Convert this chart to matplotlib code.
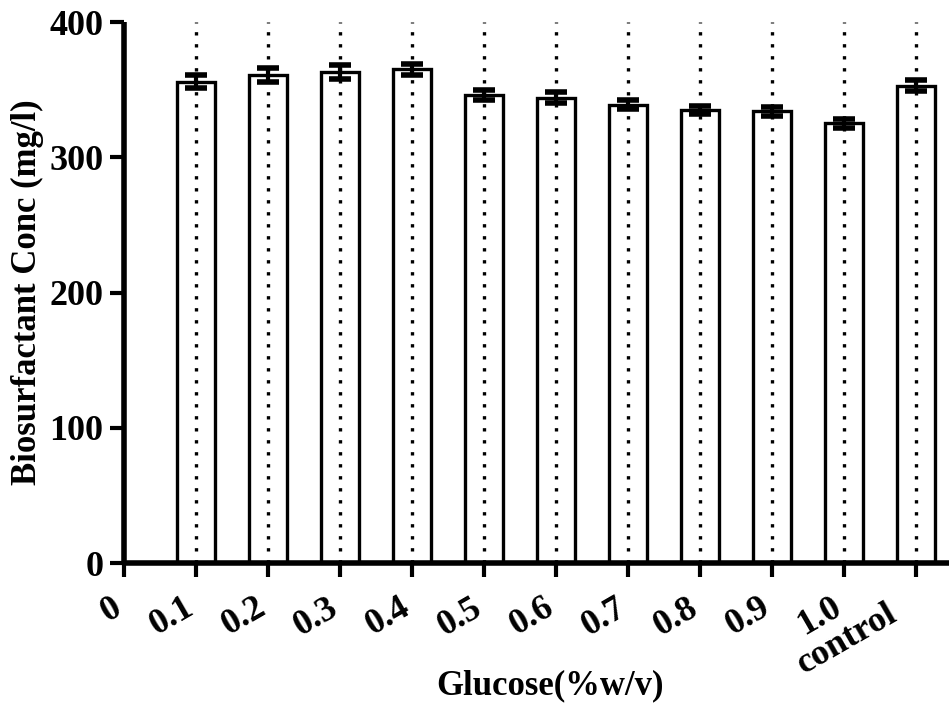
import numpy as np
import matplotlib
matplotlib.use("Agg")
import matplotlib.pyplot as plt
from matplotlib.ticker import MultipleLocator
from matplotlib.transforms import ScaledTranslation

# ------------------------------------------------------------
# Data
# ------------------------------------------------------------
TICK_LABELS = ["0", "0.1", "0.2", "0.3", "0.4", "0.5", "0.6", "0.7",
               "0.8", "0.9", "1.0", "control"]
BAR_POS = [1, 2, 3, 4, 5, 6, 7, 8, 9, 10, 11]
CONC = [356, 361, 363, 365, 346, 344, 339, 335, 334, 325, 353]
CONC_ERR = [5, 5, 5, 4, 4, 4, 3.5, 3, 3.5, 3.5, 4]

plt.rcParams["font.family"] = ["Liberation Serif", "DejaVu Serif"]
plt.rcParams["font.weight"] = "bold"

fig = plt.figure(figsize=(9.49, 7.06), dpi=100)
ax = fig.add_axes([0.1307, 0.2025, 0.8693, 0.7663])

ax.bar(BAR_POS, CONC, width=0.53, facecolor="white", edgecolor="black",
       linewidth=2.4, zorder=2)

# dotted guide lines through each bar
ax.vlines(BAR_POS, 0, 400, colors="black", linewidth=2.4,
          linestyles=(0, (1, 2.6)), zorder=3)

ax.errorbar(BAR_POS, CONC, yerr=CONC_ERR, fmt="none", ecolor="black",
            elinewidth=3, capsize=8, capthick=4, zorder=4)

ax.set_xlim(0, 11.46)
ax.set_ylim(0, 400)

ax.spines["top"].set_visible(False)
ax.spines["right"].set_visible(False)
for side in ("left", "bottom"):
    ax.spines[side].set_linewidth(4)
    ax.spines[side].set_capstyle("butt")

ax.set_yticks([0, 100, 200, 300, 400])
ax.set_xticks(range(len(TICK_LABELS)))
ax.set_xticklabels(TICK_LABELS, rotation=30, ha="right", va="top",
                   rotation_mode="anchor")
ax.yaxis.set_minor_locator(MultipleLocator(2.5))
ax.xaxis.set_minor_locator(MultipleLocator(1 / 16))

ax.tick_params(axis="both", which="major", length=10, width=3,
               direction="out", labelsize=26)
ax.tick_params(axis="y", which="major", pad=5)
ax.tick_params(axis="x", which="major", pad=6)
ax.tick_params(axis="both", which="minor", length=3.8, width=0.6,
               direction="inout", color=(1, 1, 1, 0.7))

# shift the rotated labels a little left/down, the last one further
labels = ax.get_xticklabels()
for i, lbl in enumerate(labels):
    dx, dy = (-0.13, -0.06) if i < len(labels) - 1 else (-0.29, -0.12)
    lbl.set_transform(lbl.get_transform() +
                      ScaledTranslation(dx, dy, fig.dpi_scale_trans))

ax.set_xlabel("Glucose(%w/v)", fontsize=25, fontweight="bold")
ax.xaxis.set_label_coords(0.516, -0.197)
ax.set_ylabel("Biosurfactant Conc (mg/l)", fontsize=25, fontweight="bold",
              labelpad=4)

fig.savefig("out.png", dpi=100)
